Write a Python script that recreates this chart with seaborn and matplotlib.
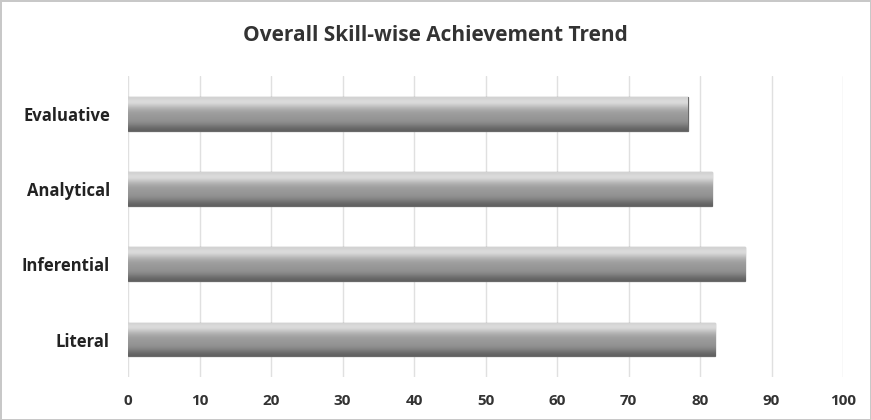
import matplotlib
matplotlib.use("Agg")
import matplotlib.pyplot as plt
import seaborn as sns
import numpy as np
import pandas as pd

categories = ["Evaluative", "Analytical", "Inferential", "Literal"]
values = [78.3, 81.7, 86.3, 82.1]
x_ticks = [0, 10, 20, 30, 40, 50, 60, 70, 80, 90, 100]

sns.set_theme(style="white")
plt.rcParams['font.family'] = ['Open Sans', 'DejaVu Sans']

df = pd.DataFrame({"skill": categories, "score": values})

fig = plt.figure(figsize=(8.71, 4.20), dpi=100)
fig.patch.set_edgecolor("#c8c8c8")
fig.patch.set_linewidth(2)
ax = fig.add_axes([0.147, 0.102, 0.821, 0.717])

sns.barplot(data=df, x="score", y="skill", orient="h", color="#9a9a9a",
            width=0.45, ax=ax, edgecolor="#6a6a6a", linewidth=0.9, zorder=3)

# vertical gradient shading on each bar
grad = np.array([0.82, 0.88, 0.78, 0.68, 0.62, 0.60, 0.58, 0.55, 0.47, 0.38]).reshape(-1, 1)
for p in ax.patches:
    x0, y0 = p.get_x(), p.get_y()
    w, h = p.get_width(), p.get_height()
    im = ax.imshow(grad, cmap="gray", vmin=0, vmax=1, aspect="auto",
                   extent=[x0, x0 + w, y0 + h, y0], zorder=4, interpolation="bicubic")
    im.set_clip_path(p)

ax.set_xlim(0, 100)
ax.set_ylim(3.5, -0.5)
ax.set_xticks(x_ticks)
ax.set_xticklabels([str(t) for t in x_ticks], fontsize=11, fontweight="bold", color="#333333")
ax.tick_params(axis="x", length=0, pad=12)
ax.tick_params(axis="y", length=0, pad=13)
for lbl in ax.get_yticklabels():
    lbl.set_fontsize(12)
    lbl.set_fontweight("bold")
    lbl.set_color("#222222")
ax.xaxis.grid(True, color="#e0e0e0", linewidth=1, zorder=0)
ax.set_axisbelow(True)
for s in ax.spines.values():
    s.set_visible(False)
ax.set_xlabel("")
ax.set_ylabel("")

fig.text(0.5, 0.915, "Overall Skill-wise Achievement Trend", ha="center", va="center",
         fontsize=15, fontweight="bold", color="#333333")

fig.savefig("out.png", dpi=100)
